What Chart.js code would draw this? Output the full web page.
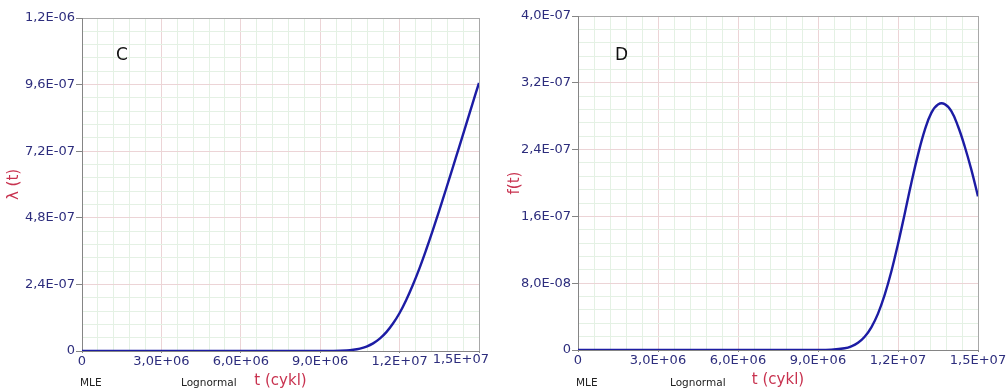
<!DOCTYPE html>
<html>
<head>
<meta charset="utf-8">
<script src="https://cdn.jsdelivr.net/npm/chart.js@4.4.1/dist/chart.umd.min.js"></script>
<style>
  html, body { margin: 0; padding: 0; background: #ffffff; }
  #wrap { position: relative; width: 1008px; height: 392px; overflow: hidden; }
  canvas { position: absolute; top: 0; }
</style>
</head>
<body>
<div id="wrap">
  <canvas id="c1" width="504" height="392" style="left:0px"></canvas>
  <canvas id="c2" width="504" height="392" style="left:504px"></canvas>
</div>
<script>
// ---- data ----
const tValues = [0, 3e6, 6e6, 9e6, 9.5e6, 10e6, 10.25e6, 10.5e6, 10.75e6, 11e6, 11.25e6, 11.5e6, 11.75e6,
  12e6, 12.25e6, 12.5e6, 12.75e6, 13e6, 13.25e6, 13.5e6, 13.75e6, 14e6, 14.25e6, 14.5e6, 14.75e6, 15e6];
const hazardValues = [0, 0, 0, 0, 3.5e-10, 2.1e-9, 4.4e-9, 8.7e-9, 1.6e-8, 2.75e-8, 4.45e-8, 6.8e-8, 9.9e-8,
  1.37e-7, 1.84e-7, 2.38e-7, 2.98e-7, 3.64e-7, 4.34e-7, 5.07e-7, 5.82e-7, 6.58e-7, 7.35e-7, 8.12e-7, 8.9e-7, 9.66e-7];
const pdfValues = [0, 0, 0, 0, 3.5e-10, 2.05e-9, 4.4e-9, 8.7e-9, 1.59e-8, 2.72e-8, 4.36e-8, 6.6e-8, 9.4e-8,
  1.27e-7, 1.63e-7, 2.0e-7, 2.34e-7, 2.63e-7, 2.84e-7, 2.94e-7, 2.945e-7, 2.86e-7, 2.68e-7, 2.44e-7, 2.16e-7, 1.84e-7];

const xTickLabels = ['0', '3,0E+06', '6,0E+06', '9,0E+06', '1,2E+07', '1,5E+07'];
const yLeftTickLabels = ['0', '2,4E-07', '4,8E-07', '7,2E-07', '9,6E-07', '1,2E-06'];
const yRightTickLabels = ['0', '8,0E-08', '1,6E-07', '2,4E-07', '3,2E-07', '4,0E-07'];

const xMax = 1.5e7, xMinorStep = 6e5;
const yLeftMax = 1.2e-6, yLeftMinorStep = 4.8e-8;
const yRightMax = 4e-7, yRightMinorStep = 1.6e-8;

// ---- styles ----
const FONT = '"DejaVu Sans", Verdana, sans-serif';
const tickColor = '#2d2d7d';
const titleColor = '#c8324f';
const lineColor = '#1c1ca4';
const majorGrid = 'rgb(236,212,214)';
const minorGrid = 'rgb(228,241,228)';
const axisGray = '#858585';
const boxGray = '#a8a8a8';

function gridColor(ctx) {
  const n = ctx.scale.ticks.length - 1;
  if (ctx.index === n) return boxGray;
  return ctx.index % 5 === 0 ? majorGrid : minorGrid;
}

const annotate = {
  id: 'annotate',
  afterDraw(chart, args, opts) {
    const c = chart.ctx;
    const area = chart.chartArea;
    c.save();
    c.fillStyle = '#111';
    c.font = '17px ' + FONT;
    c.textBaseline = 'alphabetic';
    c.textAlign = 'left';
    c.fillText(opts.letter, area.left + opts.letterDx, 60);
    c.fillStyle = '#222';
    c.font = '10.5px ' + FONT;
    c.fillText('MLE', area.left - 2, 386);
    c.fillText('Lognormal', area.left + opts.lognDx, 386);
    if (opts.lastLabelShift) {
      const xs = chart.scales.x;
      c.fillStyle = tickColor;
      c.font = '13px ' + FONT;
      c.textAlign = 'right';
      c.textBaseline = 'middle';
      c.fillText(xTickLabels[xTickLabels.length - 1], xs.getPixelForValue(xMax) + 10, 360);
    }
    c.restore();
  }
};

function makeChart(id, values, yMax, yStep, yLabels, yTitle, pad, letter, letterDx, lognDx, shiftLast) {
  const points = tValues.map((t, i) => ({ x: t, y: values[i] }));
  return new Chart(document.getElementById(id), {
    type: 'line',
    data: {
      datasets: [{
        data: points,
        borderColor: lineColor,
        borderWidth: 2.4,
        pointRadius: 0,
        fill: false,
        tension: 0.4
      }]
    },
    options: {
      responsive: false,
      animation: false,
      devicePixelRatio: 1,
      layout: { autoPadding: false, padding: pad },
      plugins: {
        legend: { display: false },
        tooltip: { enabled: false },
        annotate: { letter: letter, letterDx: letterDx, lognDx: lognDx, lastLabelShift: shiftLast }
      },
      scales: {
        x: {
          type: 'linear',
          min: 0, max: xMax,
          afterFit: s => { s.height = 41; },
          ticks: {
            stepSize: xMinorStep,
            maxTicksLimit: 1000,
            autoSkip: false,
            maxRotation: 0,
            padding: 1,
            color: tickColor,
            font: { family: FONT, size: 13 },
            callback: (v, i) => {
              if (i % 5 !== 0) return '';
              if (shiftLast && i / 5 === xTickLabels.length - 1) return '';
              return xTickLabels[i / 5];
            }
          },
          grid: {
            color: gridColor,
            tickColor: ctx => ctx.index % 5 === 0 ? axisGray : 'rgba(0,0,0,0)',
            tickLength: 2,
            lineWidth: 1
          },
          border: { color: axisGray, width: 1 },
          title: {
            display: true,
            text: 't (cykl)',
            color: titleColor,
            font: { family: FONT, size: 15 },
            padding: { top: 0, bottom: 2 }
          }
        },
        y: {
          type: 'linear',
          min: 0, max: yMax,
          afterFit: s => { s.width = pad.yAxisWidth; },
          ticks: {
            stepSize: yStep,
            maxTicksLimit: 1000,
            autoSkip: false,
            padding: 1,
            color: tickColor,
            font: { family: FONT, size: 13 },
            callback: (v, i) => (i % 5 === 0 ? yLabels[i / 5] : '')
          },
          grid: {
            color: gridColor,
            tickColor: ctx => ctx.index % 5 === 0 ? axisGray : 'rgba(0,0,0,0)',
            tickLength: 6,
            lineWidth: 1
          },
          border: { color: axisGray, width: 1 },
          title: {
            display: true,
            text: yTitle,
            color: titleColor,
            font: { family: FONT, size: 15 },
            padding: { top: pad.yTitlePad, bottom: 0 }
          }
        }
      }
    },
    plugins: [annotate]
  });
}

makeChart('c1', hazardValues, yLeftMax, yLeftMinorStep, yLeftTickLabels, 'λ (t)',
  { left: 0, right: 25, top: 18, bottom: 0, yAxisWidth: 82, yTitlePad: 5 }, 'C', 34, 99, true);
makeChart('c2', pdfValues, yRightMax, yRightMinorStep, yRightTickLabels, 'f(t)',
  { left: 0, right: 30, top: 16, bottom: 1, yAxisWidth: 74, yTitlePad: 2 }, 'D', 37, 92, false);
</script>
</body>
</html>
